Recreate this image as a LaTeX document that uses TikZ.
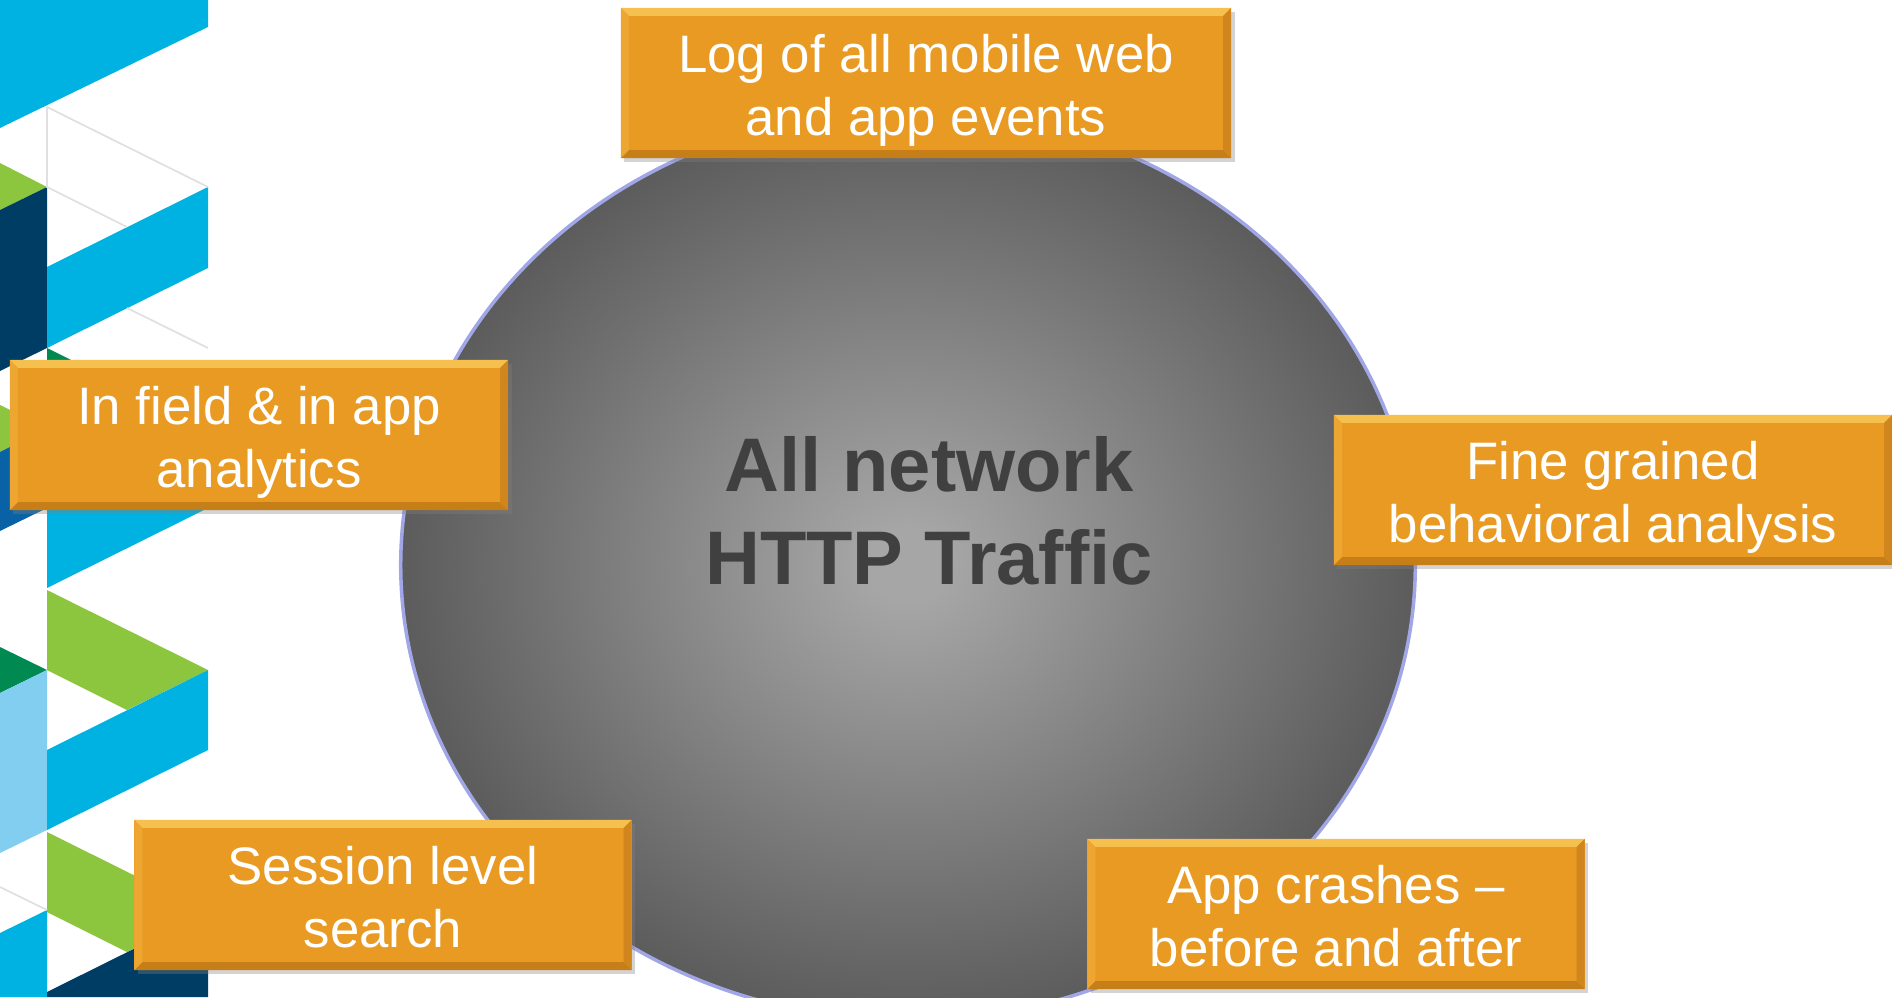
\documentclass[tikz,border=0pt]{standalone}
\usepackage{fontspec}
\setmainfont{Liberation Sans}
\usepackage{tikz}
\usetikzlibrary{shapes, shadows}
\definecolor{boxorange}{RGB}{232,154,34}
\definecolor{bevtop}{RGB}{246,192,78}
\definecolor{bevleft}{RGB}{237,166,50}
\definecolor{bevright}{RGB}{208,134,28}
\definecolor{bevbottom}{RGB}{198,126,24}
\definecolor{disclight}{RGB}{166,166,166}
\definecolor{discdark}{RGB}{92,92,92}
\definecolor{discedge}{RGB}{160,166,230}
\definecolor{hubgray}{RGB}{64,64,64}
\definecolor{stripcyan}{RGB}{0,178,226}
\definecolor{stripgreen}{RGB}{140,198,63}
\definecolor{stripnavy}{RGB}{0,61,100}
\definecolor{stripdkgreen}{RGB}{0,138,82}
\definecolor{stripblue}{RGB}{10,98,166}
\definecolor{stripsky}{RGB}{130,206,240}
\pgfdeclareradialshading{discgray}{\pgfpoint{0bp}{0bp}}{color(0bp)=(disclight); color(2bp)=(disclight); color(25bp)=(discdark); color(50bp)=(discdark)}
\newcommand\bevdepth{0.08cm}
\newcommand\boxfont{\fontsize{15pt}{18pt}\selectfont}
\tikzset{
  bevel/.style={
    path picture={
      \fill[bevtop] (path picture bounding box.north west) -- (path picture bounding box.north east) -- ([xshift=-\bevdepth,yshift=-\bevdepth]path picture bounding box.north east) -- ([xshift=\bevdepth,yshift=-\bevdepth]path picture bounding box.north west) -- cycle;
      \fill[bevbottom] (path picture bounding box.south west) -- (path picture bounding box.south east) -- ([xshift=-\bevdepth,yshift=\bevdepth]path picture bounding box.south east) -- ([xshift=\bevdepth,yshift=\bevdepth]path picture bounding box.south west) -- cycle;
      \fill[bevleft] (path picture bounding box.north west) -- (path picture bounding box.south west) -- ([xshift=\bevdepth,yshift=\bevdepth]path picture bounding box.south west) -- ([xshift=\bevdepth,yshift=-\bevdepth]path picture bounding box.north west) -- cycle;
      \fill[bevright] (path picture bounding box.north east) -- (path picture bounding box.south east) -- ([xshift=-\bevdepth,yshift=\bevdepth]path picture bounding box.south east) -- ([xshift=-\bevdepth,yshift=-\bevdepth]path picture bounding box.north east) -- cycle;
    }
  },
  stripline/.style={draw=black!12, line width=0.5pt},
}
\tikzstyle{block} = [rectangle, fill=boxorange, text=white, align=center, inner sep=0pt, minimum height=1.5cm, font=\boxfont, text height=30pt, text depth=0pt, bevel, drop shadow={opacity=0.35, shadow xshift=1pt, shadow yshift=-1.2pt}]
\tikzstyle{hubtext} = [align=center, text=hubgray, font=\fontsize{21.6pt}{26.4pt}\selectfont\bfseries]

\begin{document}
\begin{tikzpicture}[x=0.01cm, y=-0.01cm]
	\useasboundingbox (0,0) rectangle (1892,997);

	% left strip
	\begin{scope}
	\clip (0,0) rectangle (208,997);
	\fill[stripcyan] (0,0) -- (208,0) -- (208,27) -- (0,128) -- cycle;
	\fill[stripgreen] (0,163) -- (47,187) -- (0,210) -- cycle;
	\fill[stripnavy] (0,210) -- (47,187) -- (47,348) -- (0,371) -- cycle;
	\fill[stripcyan] (47,267) -- (208,187) -- (208,268) -- (47,348) -- cycle;
	\fill[stripdkgreen] (47,348) -- (208,428) -- (127,468) -- (47,428) -- cycle;
	\fill[stripgreen] (0,405) -- (47,428) -- (0,452) -- cycle;
	\fill[stripblue] (0,452) -- (47,428) -- (47,508) -- (0,531) -- cycle;
	\fill[stripcyan] (47,508) -- (208,428) -- (208,508) -- (47,588) -- cycle;
	\fill[stripgreen] (47,590) -- (208,670) -- (127,710) -- (47,670) -- cycle;
	\fill[stripdkgreen] (0,647) -- (47,670) -- (0,693) -- cycle;
	\fill[stripsky] (0,693) -- (47,670) -- (47,830) -- (0,853) -- cycle;
	\fill[stripcyan] (47,750) -- (208,670) -- (208,750) -- (47,830) -- cycle;
	\fill[stripgreen] (47,832) -- (208,912) -- (127,952) -- (47,912) -- cycle;
	\fill[stripcyan] (0,933) -- (47,910) -- (47,997) -- (0,997) -- cycle;
	\fill[stripnavy] (47,992) -- (208,912) -- (208,997) -- (47,997) -- cycle;
	\draw[stripline] (47,107) -- (208,187) (47,107) -- (47,187) -- (127,227) (127,308) -- (208,348) (0,887) -- (47,910);
	\end{scope}

	% disc
	\path[shading=discgray, draw=discedge, line width=1pt] (908,565) ellipse [x radius=5.07cm, y radius=4.55cm];
	\node[hubtext] (hub) at (929,511) {All network\\HTTP Traffic};

	% blocks
	\node[block, minimum width=6.10cm] (logbox) at (926,83) {Log of all mobile web\\and app events};
	\node[block, minimum width=4.98cm] (fieldbox) at (259,435) {In field \& in app\\analytics};
	\node[block, minimum width=5.58cm] (finebox) at (1613,490) {Fine grained\\behavioral analysis};
	\node[block, minimum width=4.97cm] (sessionbox) at (383,895) {Session level\\search};
	\node[block, minimum width=4.97cm] (crashbox) at (1336,914) {App crashes \textendash\\before and after};
\end{tikzpicture}
\end{document}
